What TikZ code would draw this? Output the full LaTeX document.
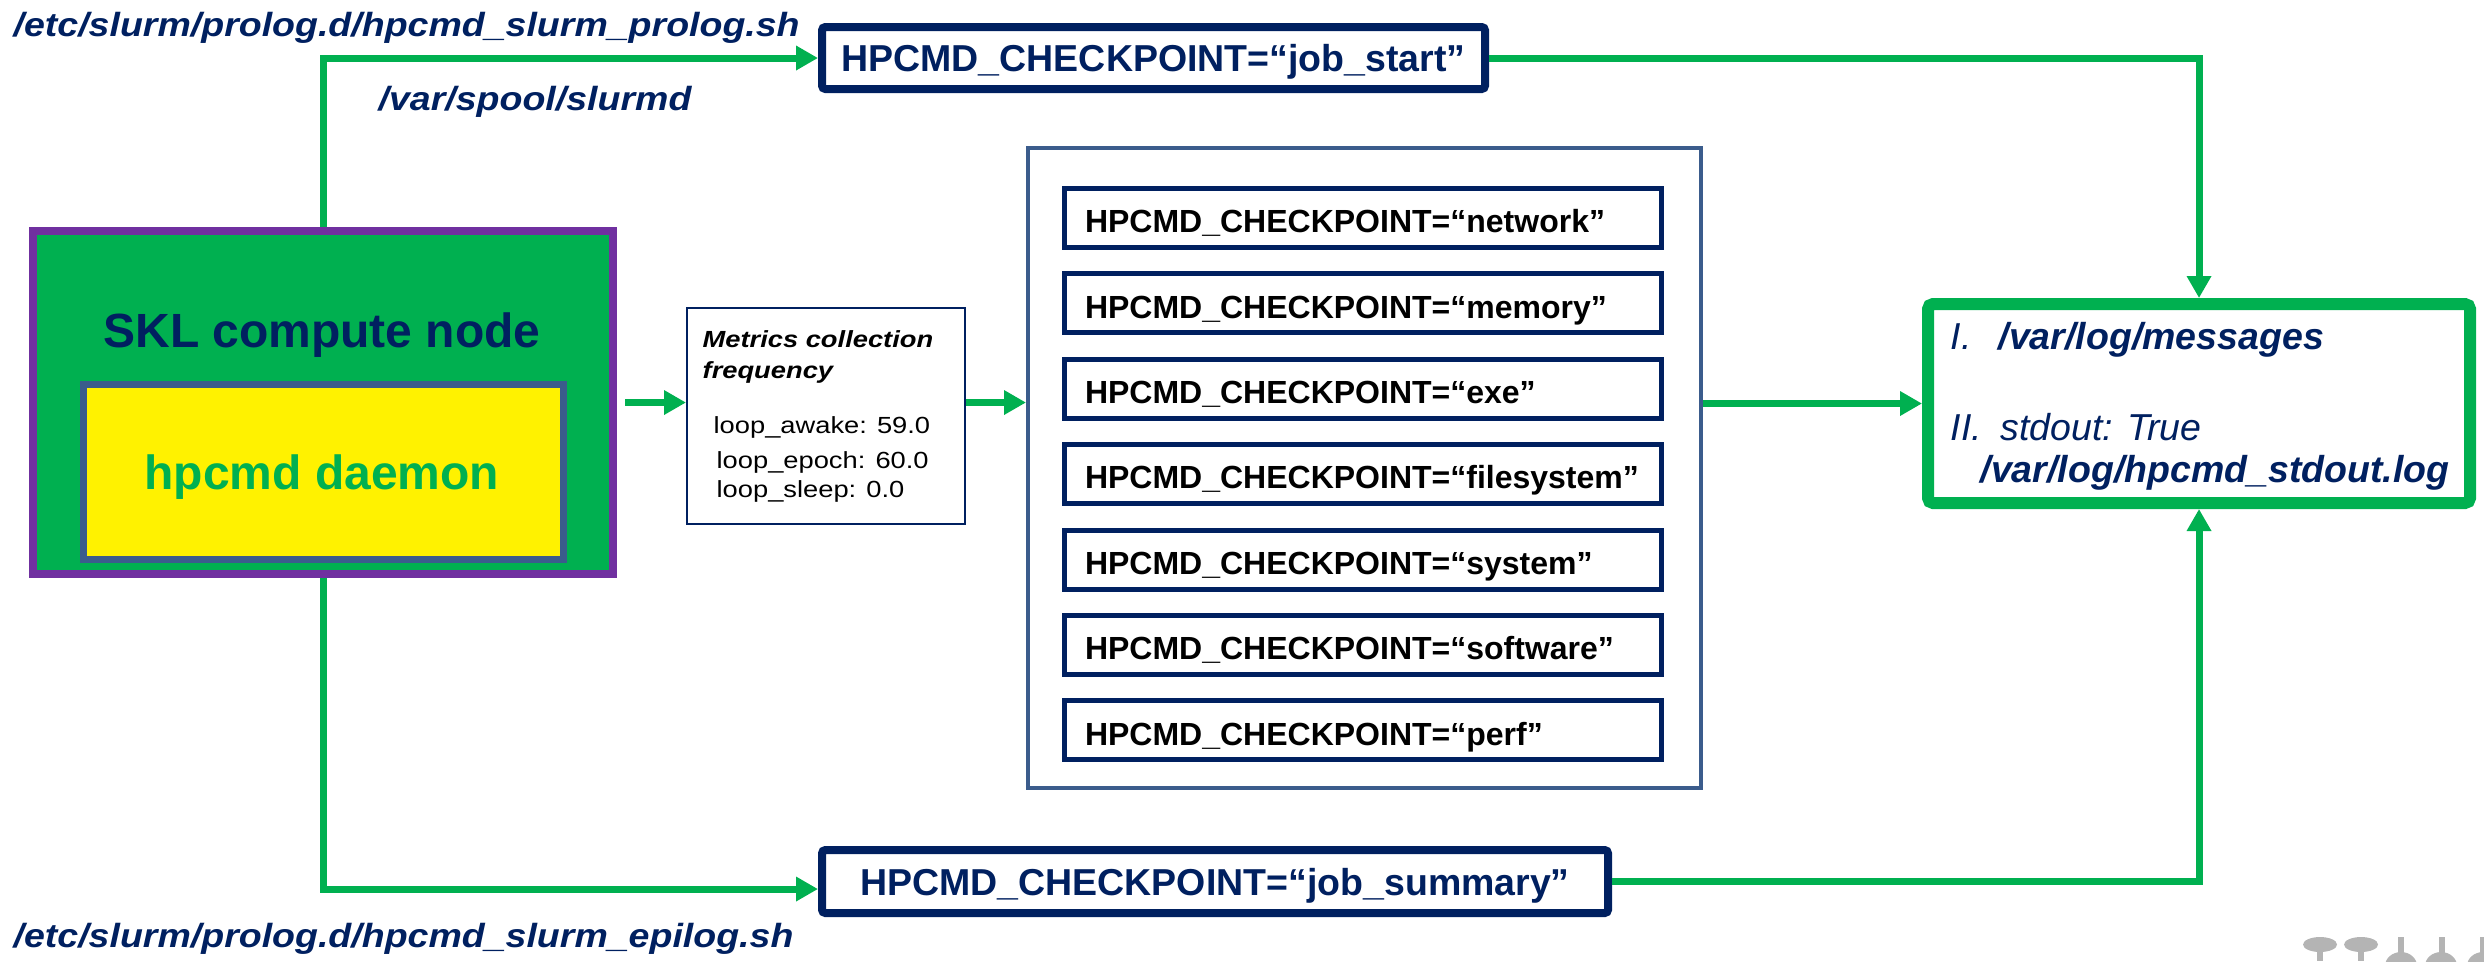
\documentclass[tikz,border=0pt]{standalone}
\usepackage{fontspec}
\setmainfont{Liberation Sans}
\newfontfamily\pathfont[FakeStretch=1.12]{Liberation Sans}
\newfontfamily\metfont[FakeStretch=1.17]{Liberation Sans}
\usetikzlibrary{arrows.meta,calc}
\definecolor{hgreen}{HTML}{00B050}
\definecolor{hnavy}{HTML}{002060}
\definecolor{hpurple}{HTML}{7030A0}
\definecolor{hslate}{HTML}{3B5C8C}
\definecolor{hgray}{HTML}{B4B4B4}
\begin{document}
\begin{tikzpicture}[x=0.3pt,y=-0.3pt,
  conn/.style={draw=hgreen, line width=2.1pt, -{Triangle[length=6.6pt,width=7pt]}},
  jobbox/.style={draw=hnavy, line width=2.4pt, fill=white, rounded corners=1pt, inner sep=0pt,
    font=\bfseries\fontsize{11.25}{13}\selectfont, text=hnavy, text height=0.85em, text depth=0.03em},
  cpbox/.style={draw=hnavy, line width=1.5pt, fill=white, inner xsep=6.15pt, inner ysep=0pt,
    text width=166.8pt, align=left, minimum height=17.7pt,
    font=\bfseries\fontsize{9.6}{11}\selectfont, text=black, text height=0.9em, text depth=0.02em},
  pathtxt/.style={anchor=base west, inner sep=0pt, text=hnavy,
    font=\pathfont\bfseries\itshape\fontsize{10.05}{12}\selectfont},
  msgtxt/.style={anchor=base west, inner sep=0pt, text=hnavy,
    font=\itshape\fontsize{11.25}{13}\selectfont},
  mettxt/.style={anchor=base west, inner sep=0pt, text=black,
    font=\metfont\fontsize{7}{8}\selectfont}
]
\useasboundingbox (0,0) rectangle (2484,961);
\clip (0,0) rectangle (2484,961);

% left compute node
\node[draw=hpurple, line width=2.4pt, fill=hgreen, minimum width=174pt, minimum height=102.9pt,
  inner sep=0pt] (purple) at (323,402.5) {};
\node[draw=hslate, line width=2.1pt, fill=yellow, minimum width=144pt, minimum height=52.5pt,
  inner sep=0pt] (daemonbox) at (323.5,472) {};
\node[anchor=base, inner sep=0pt, text=hnavy, font=\bfseries\fontsize{14.4}{16}\selectfont]
  (skl) at (322,347) {SKL compute node};
\node[anchor=base, inner sep=0pt, text=hgreen, font=\bfseries\fontsize{14.4}{16}\selectfont]
  (daemon) at (322,489) {hpcmd daemon};

% metrics box
\node[draw=hnavy, line width=0.6pt, fill=white, minimum width=83.4pt, minimum height=64.8pt,
  inner sep=0pt] (metrics) at (826,416) {};
\node[mettxt, font=\metfont\bfseries\itshape\fontsize{7}{8}\selectfont] (m1) at (702,347) {Metrics collection};
\node[mettxt, font=\metfont\bfseries\itshape\fontsize{7}{8}\selectfont] (m2) at (702,378) {frequency};
\node[mettxt] (m3) at (713,433) {loop\_awake: 59.0};
\node[mettxt] (m4) at (716,468) {loop\_epoch: 60.0};
\node[mettxt] (m5) at (716,497) {loop\_sleep: 0.0};

% checkpoint frame
\node[draw=hslate, line width=1.2pt, fill=white, minimum width=201.9pt, minimum height=192pt,
  inner sep=0pt] (frame) at (1364.5,468) {};
\node[cpbox] (cp1) at (1363,218) {HPCMD\_CHECKPOINT=“network”};
\node[cpbox] (cp2) at (1363,303.4) {HPCMD\_CHECKPOINT=“memory”};
\node[cpbox] (cp3) at (1363,388.8) {HPCMD\_CHECKPOINT=“exe”};
\node[cpbox] (cp4) at (1363,474.2) {HPCMD\_CHECKPOINT=“filesystem”};
\node[cpbox] (cp5) at (1363,559.6) {HPCMD\_CHECKPOINT=“system”};
\node[cpbox] (cp6) at (1363,645) {HPCMD\_CHECKPOINT=“software”};
\node[cpbox] (cp7) at (1363,730.4) {HPCMD\_CHECKPOINT=“perf”};

% job boxes
\node[jobbox, minimum width=198.9pt, minimum height=18.6pt] (jobstart) at (1153.5,58)
  {HPCMD\_CHECKPOINT=“job\_start”};
\node[jobbox, minimum width=235.8pt, minimum height=18.9pt] (jobsum) at (1215,881.5)
  {HPCMD\_CHECKPOINT=“job\_summary”};

% messages box
\node[draw=hgreen, line width=3.6pt, fill=white, rounded corners=1.5pt, minimum width=162.6pt,
  minimum height=59.7pt, inner sep=0pt] (messages) at (2199,403.5) {};
\node[msgtxt] (l1) at (1950,349) {I.};
\node[msgtxt, font=\bfseries\itshape\fontsize{11.25}{13}\selectfont] (l1b) at (1998,349) {/var/log/messages};
\node[msgtxt] (l2) at (1950,440) {II.};
\node[msgtxt] (l2b) at (2000,440) {stdout: True};
\node[msgtxt, font=\bfseries\itshape\fontsize{11.25}{13}\selectfont] (l3) at (1980,482) {/var/log/hpcmd\_stdout.log};

% path labels
\node[pathtxt] (prolog) at (13,36) {/etc/slurm/prolog.d/hpcmd\_slurm\_prolog.sh};
\node[pathtxt] (spool) at (378,110) {/var/spool/slurmd};
\node[pathtxt] (epilog) at (13,947) {/etc/slurm/prolog.d/hpcmd\_slurm\_epilog.sh};

% connectors
\draw[conn] (purple.north) |- (jobstart.west);
\draw[conn] (jobstart.east) -| (messages.north);
\draw[conn, shorten <=2.4pt] (purple.east) -- (purple.east -| metrics.west);
\draw[conn] (metrics.east |- purple.east) -- (frame.west |- purple.east);
\draw[conn] (frame.east |- messages.west) -- (messages.west);
\draw[conn] (purple.south) |- ($(jobsum.west)+(0,7.5)$);
\draw[conn] (jobsum.east) -| (messages.south);

% partial logo at bottom right
\fill[hgray] (2320,944.5) ellipse [x radius=5.1pt, y radius=2.25pt];
\fill[hgray] (2317,950) rectangle (2323,961);
\fill[hgray] (2361,944.5) ellipse [x radius=5.1pt, y radius=2.25pt];
\fill[hgray] (2358,950) rectangle (2364,961);
\fill[hgray] (2398,937) rectangle (2404,955);
\fill[hgray] (2401,966) ellipse [x radius=4.8pt, y radius=4.2pt];
\fill[hgray] (2439,937) rectangle (2445,955);
\fill[hgray] (2441,966) ellipse [x radius=4.8pt, y radius=4.2pt];
\fill[hgray] (2480,937) rectangle (2486,955);
\fill[hgray] (2483,966) ellipse [x radius=4.8pt, y radius=4.2pt];
\end{tikzpicture}
\end{document}
